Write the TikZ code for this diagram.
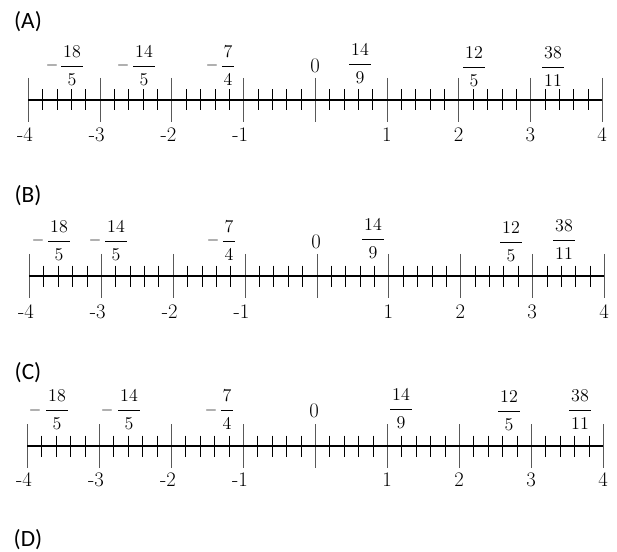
\documentclass[tikz,border=0pt]{standalone}
\usepackage{fontspec}
\newfontfamily\labfont{Carlito}
\setlength\arrayrulewidth{0.6pt}
\newcommand{\numline}[5]{% prefix, left x, right x, axis y, label y
  \coordinate (#1l) at (#2,#4);
  \coordinate (#1r) at (#3,#4);
  \foreach \i in {0,...,40}{
    \pgfmathsetmacro{\xx}{round(#2+((#3-#2)/40)*\i)+0.5}
    \pgfmathtruncatemacro{\mm}{mod(\i,5)}
    \ifnum\mm=0
      \draw[majortick] (\xx,#4-22) -- (\xx,#4+22);
    \else
      \draw[minortick] (\xx,#4-10.5) -- (\xx,#4+10.5);
    \fi
  }
  \draw[axisline] (#1l) -- (#1r);
  \foreach \k in {0,...,8}{
    \pgfmathtruncatemacro{\val}{\k-4}
    \pgfmathtruncatemacro{\aval}{abs(\k-4)}
    \pgfmathsetmacro{\xx}{#2+((#3-#2)/8)*\k}
    \ifnum\val<0
      \node[numlab] (#1n\k) at (\xx,#5) {\llap{-}\aval};
    \else\ifnum\val>0
      \node[numlab] (#1n\k) at (\xx,#5) {\aval};
    \fi\fi
  }
}
\newcommand{\fr}[5]{% name, x, bar y, num, den
  \node[fracnode] (#1) at (#2,#3) {\begin{tabular}{@{\hspace{1.3pt}}c@{\hspace{1.3pt}}}#4\\\hline #5\end{tabular}};}
\newcommand{\mfr}[6]{% name, minus x, frac x, bar y, num, den
  \node[minusnode] (#1m) at (#2,#4) {$-$};
  \fr{#1}{#3}{#4}{#5}{#6}}
\begin{document}
\begin{tikzpicture}[x=0.75pt,y=-0.75pt,
  axisline/.style={line width=2.2pt, black},
  majortick/.style={line width=0.75pt, black!65},
  minortick/.style={line width=0.75pt, black},
  numlab/.style={inner sep=0pt, font=\fontsize{15.5}{18}\selectfont},
  fracnode/.style={inner sep=0pt, font=\fontsize{13.5}{20}\selectfont},
  minusnode/.style={inner sep=0pt, font=\fontsize{13}{20}\selectfont},
  panellab/.style={inner sep=0pt, font=\labfont\fontsize{17.5}{20}\selectfont}]
\useasboundingbox (0,0) rectangle (617,552);
\fill[white] (0,0) rectangle (617,552);

% ---------- (A) ----------
\node[panellab] (labA) at (28,22) {(A)};
\numline{A}{28}{602}{100}{135}
\mfr{A1}{52}{72}{66}{18}{5}
\mfr{A2}{123}{144}{66}{14}{5}
\mfr{A3}{212}{228}{66}{7}{4}
\node[numlab] (A0) at (315,66) {0};
\fr{A4}{360}{64}{14}{9}
\fr{A5}{474}{67}{12}{5}
\fr{A6}{553}{67}{38}{11}

% ---------- (B) ----------
\node[panellab] (labB) at (28,196) {(B)};
\numline{B}{29}{604}{276}{312}
\mfr{B1}{38}{59}{241}{18}{5}
\mfr{B2}{95}{116}{241}{14}{5}
\mfr{B3}{213}{229}{241}{7}{4}
\node[numlab] (B0) at (316,242) {0};
\fr{B4}{373}{239}{14}{9}
\fr{B5}{511}{242}{12}{5}
\fr{B6}{564}{240}{38}{11}

% ---------- (C) ----------
\node[panellab] (labC) at (28,373) {(C)};
\numline{C}{27}{603}{446}{480}
\mfr{C1}{35}{57}{410}{18}{5}
\mfr{C2}{107}{129}{410}{14}{5}
\mfr{C3}{211}{227}{410}{7}{4}
\node[numlab] (C0) at (314,411) {0};
\fr{C4}{401}{409}{14}{9}
\fr{C5}{509}{411}{12}{5}
\fr{C6}{580}{410}{38}{11}

% ---------- (D) ----------
\node[panellab] (labD) at (28,540) {(D)};
\end{tikzpicture}
\end{document}
